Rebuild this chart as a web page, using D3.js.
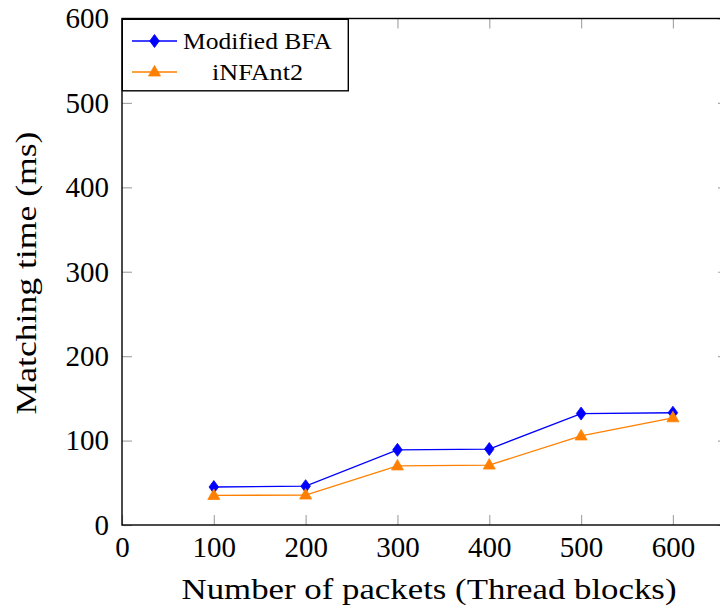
<!DOCTYPE html>
<html>
<head>
<meta charset="utf-8">
<script src="https://cdn.jsdelivr.net/npm/d3@7"></script>
<style>
  body { margin: 0; background: white; }
  svg { display: block; font-family: "Liberation Serif", serif; }
</style>
</head>
<body>
<div class="graph"></div>
<script>
// chart data
var packets = [100, 200, 300, 400, 500, 600];
var bfaTimes = [45, 46, 89, 90, 132, 133];
var infantTimes = [35, 35.5, 70, 71, 105.5, 127];
var xTicks = [0, 100, 200, 300, 400, 500, 600];
var yTicks = [0, 100, 200, 300, 400, 500, 600];
var seriesNames = ["Modified BFA", "iNFAnt2"];

var width = 720, height = 611;
var plotLeft = 122, plotRight = 728, plotTop = 18.5, plotBottom = 525;

let svg = d3.select(".graph").append("svg")
    .attr("width", width)
    .attr("height", height);

let x = d3.scaleLinear().domain([0, 660]).range([plotLeft, plotRight]);
let y = d3.scaleLinear().domain([0, 600]).range([plotBottom, plotTop]);

// axes, ticks pointing inwards like pgfplots
function styleAxis(g) {
    g.select(".domain").remove();
    g.selectAll(".tick line").attr("stroke", "#a8a8a8").attr("stroke-width", 1.2);
    g.selectAll(".tick text")
        .attr("fill", "#000")
        .style("font-size", "29px")
        .style("font-family", "Liberation Serif, serif");
}

svg.append("g")
    .attr("transform", "translate(0," + plotBottom + ")")
    .call(d3.axisBottom(x).tickValues(xTicks).tickSize(-10).tickPadding(11))
    .call(styleAxis);

svg.append("g")
    .attr("transform", "translate(0," + plotTop + ")")
    .call(d3.axisTop(x).tickValues(xTicks).tickSize(-10).tickFormat(""))
    .call(styleAxis);

svg.append("g")
    .attr("transform", "translate(" + plotLeft + ",0)")
    .call(d3.axisLeft(y).tickValues(yTicks).tickSize(-10).tickPadding(13))
    .call(styleAxis);

svg.append("g")
    .attr("transform", "translate(" + plotRight + ",0)")
    .call(d3.axisRight(y).tickValues(yTicks).tickSize(-10).tickFormat(""))
    .call(styleAxis);

// frame
svg.append("rect")
    .attr("x", plotLeft).attr("y", plotTop)
    .attr("width", plotRight - plotLeft).attr("height", plotBottom - plotTop)
    .attr("fill", "none")
    .attr("stroke", "#000")
    .attr("stroke-width", 1.4);

// axis labels
svg.append("text")
    .attr("x", (plotLeft + plotRight) / 2 + 4)
    .attr("y", 599)
    .attr("text-anchor", "middle")
    .attr("textLength", 495)
    .attr("lengthAdjust", "spacingAndGlyphs")
    .style("font-size", "30px")
    .text("Number of packets (Thread blocks)");

svg.append("text")
    .attr("transform", "translate(36," + 273 + ") rotate(-90)")
    .attr("text-anchor", "middle")
    .attr("textLength", 283)
    .attr("lengthAdjust", "spacingAndGlyphs")
    .style("font-size", "30px")
    .text("Matching time (ms)");

// series
let diamond = "M0,-6.5L4.8,0L0,6.5L-4.8,0Z";
let triangle = "M0,-6.5L6,4L-6,4Z";

let series = [
    {name: seriesNames[0], values: bfaTimes, color: "#0000ff", marker: diamond},
    {name: seriesNames[1], values: infantTimes, color: "#ff8000", marker: triangle}
];

let line = d3.line()
    .x(function(d, i) { return x(packets[i]); })
    .y(function(d) { return y(d); });

series.forEach(function(s) {
    svg.append("path")
        .datum(s.values)
        .attr("fill", "none")
        .attr("stroke", s.color)
        .attr("stroke-width", 1.3)
        .attr("d", line);

    svg.append("g").selectAll("path")
        .data(s.values)
        .join("path")
        .attr("transform", function(d, i) { return "translate(" + x(packets[i]) + "," + y(d) + ")"; })
        .attr("d", s.marker)
        .attr("fill", s.color)
        .attr("stroke", s.color)
        .attr("stroke-width", 0.8);
});

// legend
let legend = svg.append("g");

legend.append("rect")
    .attr("x", plotLeft + 0.3).attr("y", plotTop + 0.8)
    .attr("width", 226).attr("height", 71.5)
    .attr("fill", "white")
    .attr("stroke", "#000")
    .attr("stroke-width", 1.4);

let rows = [41, 72];
let textWidths = [149, 91];

series.forEach(function(s, i) {
    legend.append("line")
        .attr("x1", 132).attr("x2", 177)
        .attr("y1", rows[i]).attr("y2", rows[i])
        .attr("stroke", s.color)
        .attr("stroke-width", 1.3);
    legend.append("path")
        .attr("transform", "translate(154.5," + rows[i] + ")")
        .attr("d", s.marker)
        .attr("fill", s.color)
        .attr("stroke", s.color)
        .attr("stroke-width", 0.8);
    legend.append("text")
        .attr("x", 257.5)
        .attr("y", rows[i] + 7.5)
        .attr("text-anchor", "middle")
        .attr("textLength", textWidths[i])
        .attr("lengthAdjust", "spacingAndGlyphs")
        .style("font-size", "24px")
        .text(s.name);
});
</script>
</body>
</html>
